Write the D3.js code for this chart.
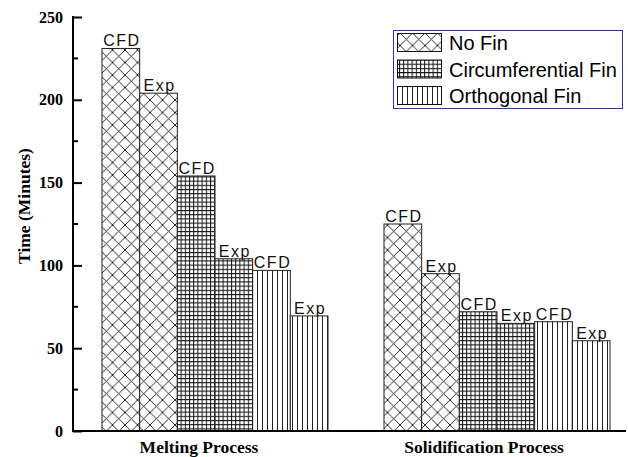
<!DOCTYPE html>
<html><head><meta charset="utf-8">
<script src="https://cdn.jsdelivr.net/npm/d3@7"></script>
<style>body{margin:0;background:#fff}svg{display:block}</style>
</head><body>
<script>
const categories = ["Melting Process", "Solidification Process"];
const series = ["No Fin", "Circumferential Fin", "Orthogonal Fin"];
const cfdValues = [[231, 125], [154, 72], [97, 66]];
const expValues = [[204, 95], [104, 65], [69.5, 54.5]];
const barLabels = ["CFD", "Exp"];
const yTicks = [0, 50, 100, 150, 200, 250];

const W = 628, H = 457;
const svg = d3.select("body").append("svg").attr("width", W).attr("height", H);
const defs = svg.append("defs");

function pat(id, w, h, d, sw, color) {
  const p = defs.append("pattern").attr("id", id).attr("patternUnits", "userSpaceOnUse")
    .attr("width", w).attr("height", h);
  p.append("rect").attr("width", w).attr("height", h).attr("fill", "#fff");
  p.append("path").attr("d", d).attr("stroke", color).attr("stroke-width", sw).attr("fill", "none");
}
pat("p0", 12.5, 12.5, "M0,0L12.5,12.5M12.5,0L0,12.5", 0.9, "#111");
pat("p1", 4.2, 4.2, "M0.5,0V4.2M0,0.5H4.2", 1, "#111");
pat("p2", 5, 10, "M2.5,0V10", 1, "#222");

const y = d3.scaleLinear().domain([0, 250]).range([431, 17]);
const x0 = d3.scaleBand().domain(categories).range([102, 610]).paddingInner(0.1986).paddingOuter(0);
const sub = [];
series.forEach((s, si) => barLabels.forEach((b, bi) => sub.push(si * 2 + bi)));
const x1 = d3.scaleBand().domain(sub).range([0, x0.bandwidth()]);

const bars = [];
categories.forEach((c, ci) => series.forEach((s, si) => {
  bars.push({c, si, k: si * 2, v: cfdValues[si][ci], lab: barLabels[0]});
  bars.push({c, si, k: si * 2 + 1, v: expValues[si][ci], lab: barLabels[1]});
}));

const g = svg.append("g");
g.selectAll("rect.bar").data(bars).join("rect").attr("class", "bar")
  .attr("x", d => x0(d.c) + x1(d.k)).attr("width", x1.bandwidth())
  .attr("y", d => y(d.v)).attr("height", d => y(0) - y(d.v))
  .attr("fill", d => `url(#p${d.si})`).attr("stroke", "#222").attr("stroke-width", 1);

g.selectAll("text.lab").data(bars).join("text").attr("class", "lab")
  .attr("x", d => x0(d.c) + x1(d.k) + x1.bandwidth() / 2 + 1).attr("y", d => y(d.v) - 2)
  .attr("text-anchor", "middle").attr("font-family", "Liberation Sans, Arial, sans-serif")
  .attr("font-size", 16).attr("letter-spacing", 1.5).attr("fill", "#111").text(d => d.lab);

// Y axis
const yAxis = d3.axisLeft(y).tickValues(yTicks).tickSize(-9).tickPadding(10).tickFormat(d3.format("d"));
const ya = svg.append("g").attr("transform", "translate(73,0)").call(yAxis);
ya.select(".domain").remove();
ya.selectAll(".tick line").attr("stroke", "#000").attr("stroke-width", 2);
ya.selectAll(".tick text").attr("font-family", "Liberation Serif, Times New Roman, serif")
  .attr("font-weight", "bold").attr("font-size", 16).attr("fill", "#000");
const minor = d3.range(25, 250, 50);
svg.append("g").selectAll("line").data(minor).join("line")
  .attr("x1", 73).attr("x2", 78).attr("y1", d => y(d)).attr("y2", d => y(d))
  .attr("stroke", "#000").attr("stroke-width", 2);
svg.append("line").attr("x1", 73).attr("x2", 73).attr("y1", y(250) - 1).attr("y2", y(0) + 1)
  .attr("stroke", "#000").attr("stroke-width", 2);
svg.append("line").attr("x1", 72).attr("x2", 626).attr("y1", y(0)).attr("y2", y(0))
  .attr("stroke", "#000").attr("stroke-width", 2);

// X labels
const xLabelShift = [-16, -13];
svg.append("g").selectAll("text").data(categories).join("text")
  .attr("x", (d, i) => x0(d) + x0.bandwidth() / 2 + xLabelShift[i]).attr("y", 452.5)
  .attr("text-anchor", "middle").attr("font-family", "Liberation Serif, Times New Roman, serif")
  .attr("font-weight", "bold").attr("font-size", 17.5).attr("fill", "#000").text(d => d);

svg.append("text").attr("transform", "translate(30,206) rotate(-90)")
  .attr("text-anchor", "middle").attr("font-family", "Liberation Serif, Times New Roman, serif")
  .attr("font-weight", "bold").attr("font-size", 17.5).attr("fill", "#000").text("Time (Minutes)");

// Legend
const lg = svg.append("g");
lg.append("rect").attr("x", 393.5).attr("y", 30.5).attr("width", 229).attr("height", 78)
  .attr("fill", "#fff").attr("stroke", "#3030c0").attr("stroke-width", 1);
const li = lg.selectAll("g.it").data(series).join("g").attr("class", "it")
  .attr("transform", (d, i) => `translate(0,${33 + i * 26.5})`);
li.append("rect").attr("x", 397.5).attr("y", 0.5).attr("width", 44).attr("height", 18)
  .attr("fill", (d, i) => `url(#p${i})`).attr("stroke", "#111").attr("stroke-width", 1);
li.append("text").attr("x", 449).attr("y", 17).attr("font-family", "Liberation Sans, Arial, sans-serif")
  .attr("font-size", 20).attr("fill", "#000").text(d => d);
</script>
</body></html>
